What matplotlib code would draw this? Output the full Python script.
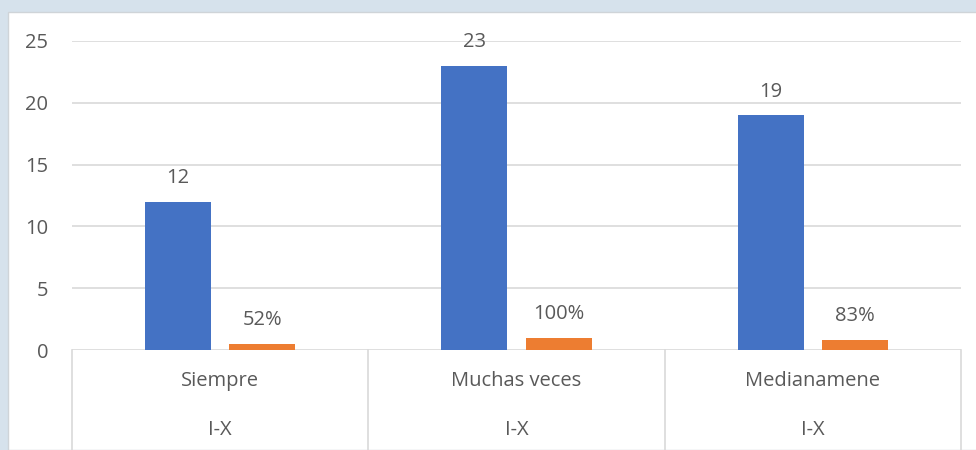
import numpy as np
import matplotlib.pyplot as plt
from matplotlib.patches import Rectangle

categories = ["Siempre", "Muchas veces", "Medianamene"]
group_label = "I-X"
counts = [12, 23, 19]
shares = [0.52, 1.00, 0.83]

plt.rcParams['font.family'] = ['Open Sans', 'DejaVu Sans']
text_color = "#595959"
grid_color = "#d9d9d9"
fs = 14.5

fig = plt.figure(figsize=(9.76, 4.5), dpi=100)
fig.patch.set_facecolor("#d6e2ec")
# white chart panel
fig.add_artist(Rectangle((8 / 976, 0), 1, 1 - 12 / 450, transform=fig.transFigure,
                         facecolor="white", edgecolor="#cfd4d8", lw=1, zorder=0))

ax = fig.add_axes([72 / 976, 100 / 450, 889 / 976, 309 / 450])
ax.set_facecolor("none")

x = np.arange(len(categories))
w = 0.223
off = 0.142
b1 = ax.bar(x - off, counts, w, color="#4472c4", zorder=3)
b2 = ax.bar(x + off, shares, w, color="#ed7d31", zorder=3)

for xi, v in zip(x, counts):
    ax.text(xi - off, v + 1.1, str(v), ha="center", va="bottom", fontsize=fs, color=text_color)
for xi, v in zip(x, shares):
    ax.text(xi + off, v + 1.1, f"{v:.0%}", ha="center", va="bottom", fontsize=fs, color=text_color)

ax.set_xlim(-0.5, len(categories) - 0.5)
ax.set_ylim(0, 25)
ax.set_yticks(range(0, 26, 5))
ax.tick_params(axis="y", length=0, pad=17, labelsize=fs, labelcolor=text_color)
ax.set_xticks([])
for s in ax.spines.values():
    s.set_visible(False)
for yv in range(5, 26, 5):
    ax.axhline(yv, color=grid_color, lw=1.2, zorder=1)
ax.axhline(0, color=grid_color, lw=1.2, zorder=1)

# multi-level category axis
ybot = -100 / 309
for xb in np.arange(-0.5, len(categories), 1.0):
    ax.plot([xb, xb], [0, ybot], transform=ax.get_xaxis_transform(),
            color=grid_color, lw=1.2, clip_on=False)
for xi, c in zip(x, categories):
    ax.text(xi, -31 / 309, c, transform=ax.get_xaxis_transform(), ha="center", va="center",
            fontsize=fs, color=text_color)
    ax.text(xi, -80 / 309, group_label, transform=ax.get_xaxis_transform(), ha="center",
            va="center", fontsize=fs, color=text_color)

fig.savefig("out.png", dpi=100, facecolor=fig.get_facecolor())
